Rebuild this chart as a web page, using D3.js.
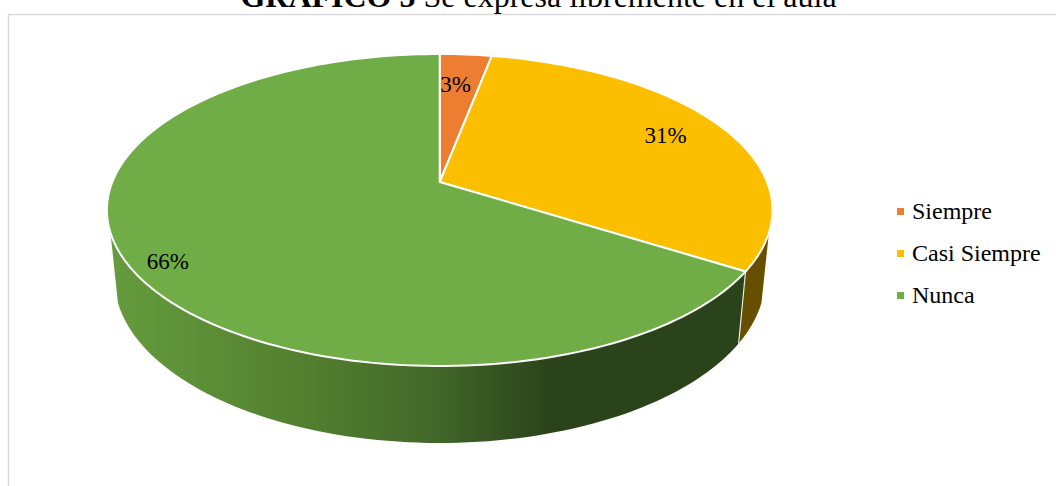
<!DOCTYPE html>
<html>
<head>
<meta charset="utf-8">
<script src="https://cdn.jsdelivr.net/npm/d3@7"></script>
<style>
  html, body { margin: 0; padding: 0; background: #fff; overflow: hidden; }
  text { font-family: "Liberation Serif", serif; fill: #000; }
</style>
</head>
<body>
<script>
var categories = ["Siempre", "Casi Siempre", "Nunca"];
var values = [3, 31, 66];
var labels = ["3%", "31%", "66%"];

var width = 1056, height = 486;

//Setting color palette
var colors = ["#ed7d31", "#fcbf00", "#70ad47"];
var wallColors = ["#8a4a1c", "#665000", "url(#greenWall)"];

//Perspective of the pie: apex, tilt and the two rims
var apex = {x: 439.7, y: 182};
var tilt = 0.1795;
var topRim = {a: 327.4, b: 151, y: apex.y};
var lowRim = {a: 320, b: 159, y: 249.2};
var steps = 240;

function project(rim, angle, r) {
  var u = r * Math.sin(angle), v = r * Math.cos(angle);
  var w = 1 + tilt * v;
  return [apex.x + u * rim.a / w, rim.y - v * rim.b / w];
}

function arcAngles(a0, a1) {
  var n = Math.max(2, Math.ceil(steps * Math.abs(a1 - a0) / (2 * Math.PI)));
  var scale = d3.scaleLinear().domain([0, n]).range([a0, a1]);
  return d3.range(n + 1).map(scale);
}

var line = d3.line();

var svg = d3.select("body")
  .append("svg")
  .attr("width", width)
  .attr("height", height)
  .style("display", "block");

//Gradient for the green side wall
var defs = svg.append("defs");
var greenWall = defs.append("linearGradient")
  .attr("id", "greenWall")
  .attr("gradientUnits", "userSpaceOnUse")
  .attr("x1", 108).attr("x2", 748).attr("y1", 0).attr("y2", 0);
[[0, "#659c3e"], [0.3, "#53802f"], [0.5, "#43692a"], [0.69, "#2b431b"], [1, "#2b431b"]].forEach(function(s) {
  greenWall.append("stop").attr("offset", s[0]).attr("stop-color", s[1]);
});

//Chart frame
svg.append("path")
  .attr("d", "M8.5," + height + "V14.5H" + width)
  .attr("fill", "none")
  .attr("stroke", "#d9d9d9")
  .attr("stroke-width", 1.5);

//Title, cut by the top of the page as in the original
var title = svg.append("text")
  .attr("x", 538.5)
  .attr("y", 7)
  .attr("text-anchor", "middle")
  .attr("font-size", 32);
title.append("tspan").attr("font-weight", "bold").text("GRAFICO 5");
title.append("tspan").text(" Se expresa libremente en el aula");

var slices = d3.pie().sort(null).value(function(d) { return d; })(values);

//Visible side of the pie: from the left silhouette round the front to the right one
var wallLimit = Math.PI / 2 + 0.3235;
function wallPath(a0, a1) {
  var angles = arcAngles(a0, a1);
  var upper = angles.map(function(a) { return project(topRim, a, 1); });
  var lower = angles.slice().reverse().map(function(a) { return project(lowRim, a, 1); });
  return line(upper.concat(lower)) + "Z";
}

var walls = svg.append("g");
slices.forEach(function(s, i) {
  var a0 = Math.max(s.startAngle, wallLimit);
  var a1 = Math.min(s.endAngle, 2 * Math.PI - wallLimit);
  if (a1 <= a0) return;
  walls.append("path")
    .attr("d", wallPath(a0, a1))
    .attr("fill", wallColors[i]);
});

//Seam between the walls
var seamAngle = slices[2].startAngle;
svg.append("path")
  .attr("d", line([project(topRim, seamAngle, 1), project(lowRim, seamAngle, 1)]))
  .attr("stroke", "#e8e8e0")
  .attr("stroke-width", 1.2);

//Top face of each slice
svg.append("g").selectAll("path")
  .data(slices)
  .enter()
  .append("path")
  .attr("d", function(d) {
    var pts = arcAngles(d.startAngle, d.endAngle).map(function(a) { return project(topRim, a, 1); });
    return line([[apex.x, apex.y]].concat(pts)) + "Z";
  })
  .attr("fill", function(d, i) { return colors[i]; })
  .attr("stroke", "#fff")
  .attr("stroke-width", 2)
  .attr("stroke-linejoin", "round");

//Data labels
var labelRadius = [0.74, 0.8, 0.897];
var labelShift = [-0.02, -0.012, -0.06];
function labelPos(d, i) {
  return project(topRim, (d.startAngle + d.endAngle) / 2 + labelShift[i], labelRadius[i]);
}
svg.append("g").selectAll("text")
  .data(slices)
  .enter()
  .append("text")
  .attr("x", function(d, i) { return labelPos(d, i)[0]; })
  .attr("y", function(d, i) { return labelPos(d, i)[1]; })
  .attr("dy", "0.35em")
  .attr("text-anchor", "middle")
  .attr("font-size", 23)
  .text(function(d, i) { return labels[i]; });

//Legend
var legendY = d3.scalePoint().domain(categories).range([212, 296]);
var legend = svg.append("g").selectAll("g")
  .data(categories)
  .enter()
  .append("g")
  .attr("transform", function(d) { return "translate(897," + legendY(d) + ")"; });
legend.append("rect")
  .attr("y", -4)
  .attr("width", 7)
  .attr("height", 7)
  .attr("fill", function(d, i) { return colors[i]; });
legend.append("text")
  .attr("x", 15)
  .attr("y", 7)
  .attr("font-size", 24)
  .text(function(d) { return d; });
</script>
</body>
</html>
